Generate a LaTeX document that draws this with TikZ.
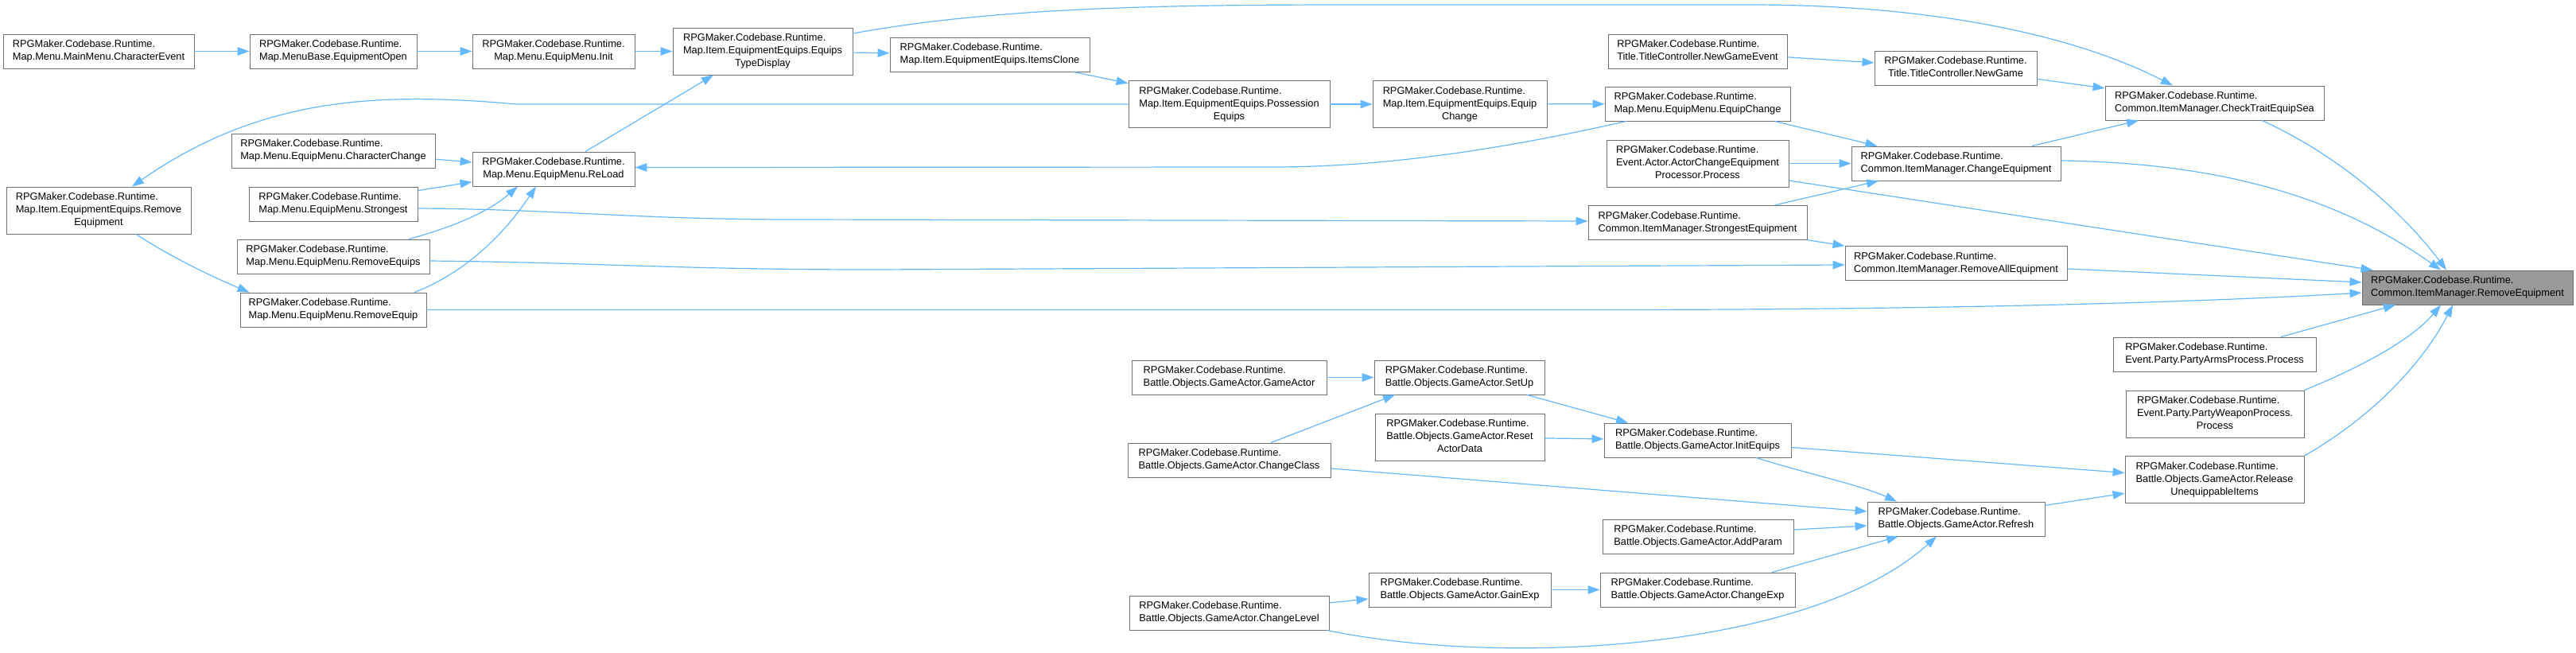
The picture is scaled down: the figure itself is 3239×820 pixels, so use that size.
\documentclass[tikz,border=0pt]{standalone}
\usepackage{fontspec}
\setmainfont{Liberation Sans}
\usetikzlibrary{arrows.meta}
\definecolor{edgeblue}{HTML}{63B8FF}
\definecolor{boxgray}{HTML}{707070}
\definecolor{rootfill}{HTML}{999999}
\newcommand{\lbl}[2]{\begin{tabular}{@{}l@{}}#1\\\multicolumn{1}{@{}c@{}}{#2}\end{tabular}}
\tikzset{
  fn/.style={
    draw=boxgray,
    fill=white,
    line width=0.9pt,
    minimum height=43pt,
    inner xsep=4pt,
    inner ysep=0pt,
    font=\fontsize{12.8}{16}\selectfont
  },
  fnthree/.style={
    fn,
    minimum height=59pt
  },
  root/.style={
    fn,
    fill=rootfill
  },
  call/.style={
    draw=edgeblue,
    line width=1.2pt,
    -{Triangle[length=15pt,width=10.5pt]}
  }
}
\begin{document}
\begin{tikzpicture}[x=1pt, y=-1pt]
  \useasboundingbox (0,0) rectangle (3239,820);

  \node[fn, minimum width=240pt] (charev) at (124,64.5) {\lbl{RPGMaker.Codebase.Runtime.}{Map.Menu.MainMenu.CharacterEvent}};
  \node[fn, minimum width=210pt] (eqopen) at (419,64.5) {\lbl{RPGMaker.Codebase.Runtime.}{Map.MenuBase.EquipmentOpen}};
  \node[fn, minimum width=204pt] (init) at (696,64.5) {\lbl{RPGMaker.Codebase.Runtime.}{Map.Menu.EquipMenu.Init}};
  \node[fnthree, minimum width=226pt] (etd) at (959,64.5) {\lbl{RPGMaker.Codebase.Runtime.\\Map.Item.EquipmentEquips.Equips}{TypeDisplay}};
  \node[fn, minimum width=251pt] (itemsclone) at (1244.5,68.5) {\lbl{RPGMaker.Codebase.Runtime.}{Map.Item.EquipmentEquips.ItemsClone}};
  \node[fnthree, minimum width=253pt] (possess) at (1545.5,131) {\lbl{RPGMaker.Codebase.Runtime.\\Map.Item.EquipmentEquips.Possession}{Equips}};
  \node[fnthree, minimum width=219pt] (itemeqchange) at (1835.5,131) {\lbl{RPGMaker.Codebase.Runtime.\\Map.Item.EquipmentEquips.Equip}{Change}};
  \node[fn, minimum width=225pt] (newgameev) at (2134.5,64.5) {\lbl{RPGMaker.Codebase.Runtime.}{Title.TitleController.NewGameEvent}};
  \node[fn, minimum width=233pt] (menueqchange) at (2134.5,130.5) {\lbl{RPGMaker.Codebase.Runtime.}{Map.Menu.EquipMenu.EquipChange}};
  \node[fnthree, minimum width=229pt] (actorproc) at (2134.5,205.5) {\lbl{RPGMaker.Codebase.Runtime.\\Event.Actor.ActorChangeEquipment}{Processor.Process}};
  \node[fn, minimum width=275pt] (strongesteq) at (2134.5,280) {\lbl{RPGMaker.Codebase.Runtime.}{Common.ItemManager.StrongestEquipment}};
  \node[fn, minimum width=204pt] (newgame) at (2459,85.5) {\lbl{RPGMaker.Codebase.Runtime.}{Title.TitleController.NewGame}};
  \node[fn, minimum width=263pt] (changeeq) at (2459.5,205.5) {\lbl{RPGMaker.Codebase.Runtime.}{Common.ItemManager.ChangeEquipment}};
  \node[fn, minimum width=279pt] (removeall) at (2459.5,331) {\lbl{RPGMaker.Codebase.Runtime.}{Common.ItemManager.RemoveAllEquipment}};
  \node[fn, minimum width=275pt] (checktrait) at (2784.5,129.5) {\lbl{RPGMaker.Codebase.Runtime.}{Common.ItemManager.CheckTraitEquipSea}};
  \node[root, minimum width=265pt] (main) at (3102.5,361.5) {\lbl{RPGMaker.Codebase.Runtime.}{Common.ItemManager.RemoveEquipment}};
  \node[fnthree, minimum width=232pt] (itemremove) at (124,264.5) {\lbl{RPGMaker.Codebase.Runtime.\\Map.Item.EquipmentEquips.Remove}{Equipment}};
  \node[fn, minimum width=256pt] (charchange) at (419,189.5) {\lbl{RPGMaker.Codebase.Runtime.}{Map.Menu.EquipMenu.CharacterChange}};
  \node[fn, minimum width=212pt] (strongest) at (419,256.5) {\lbl{RPGMaker.Codebase.Runtime.}{Map.Menu.EquipMenu.Strongest}};
  \node[fn, minimum width=242pt] (removeequips) at (419,322.5) {\lbl{RPGMaker.Codebase.Runtime.}{Map.Menu.EquipMenu.RemoveEquips}};
  \node[fn, minimum width=234pt] (removeequip) at (419,389.5) {\lbl{RPGMaker.Codebase.Runtime.}{Map.Menu.EquipMenu.RemoveEquip}};
  \node[fn, minimum width=204pt] (reload) at (696,212.5) {\lbl{RPGMaker.Codebase.Runtime.}{Map.Menu.EquipMenu.ReLoad}};

  \node[fn, minimum width=245pt] (gameactor) at (1545.5,474.5) {\lbl{RPGMaker.Codebase.Runtime.}{Battle.Objects.GameActor.GameActor}};
  \node[fn, minimum width=255pt] (changeclass) at (1545.5,578.5) {\lbl{RPGMaker.Codebase.Runtime.}{Battle.Objects.GameActor.ChangeClass}};
  \node[fn, minimum width=251pt] (changelevel) at (1545.5,770.5) {\lbl{RPGMaker.Codebase.Runtime.}{Battle.Objects.GameActor.ChangeLevel}};
  \node[fn, minimum width=214pt] (setup) at (1835,474.5) {\lbl{RPGMaker.Codebase.Runtime.}{Battle.Objects.GameActor.SetUp}};
  \node[fnthree, minimum width=213pt] (resetactor) at (1835.5,549.5) {\lbl{RPGMaker.Codebase.Runtime.\\Battle.Objects.GameActor.Reset}{ActorData}};
  \node[fn, minimum width=229pt] (gainexp) at (1835.5,741.5) {\lbl{RPGMaker.Codebase.Runtime.}{Battle.Objects.GameActor.GainExp}};
  \node[fn, minimum width=235pt] (initequips) at (2134.5,553.5) {\lbl{RPGMaker.Codebase.Runtime.}{Battle.Objects.GameActor.InitEquips}};
  \node[fn, minimum width=240pt] (addparam) at (2135,674.5) {\lbl{RPGMaker.Codebase.Runtime.}{Battle.Objects.GameActor.AddParam}};
  \node[fn, minimum width=245pt] (changeexp) at (2134.5,741.5) {\lbl{RPGMaker.Codebase.Runtime.}{Battle.Objects.GameActor.ChangeExp}};
  \node[fn, minimum width=223pt] (refresh) at (2459.5,652.5) {\lbl{RPGMaker.Codebase.Runtime.}{Battle.Objects.GameActor.Refresh}};
  \node[fn, minimum width=255pt] (partyarms) at (2784.5,445.5) {\lbl{RPGMaker.Codebase.Runtime.}{Event.Party.PartyArmsProcess.Process}};
  \node[fnthree, minimum width=224pt] (partyweapon) at (2785,520.5) {\lbl{RPGMaker.Codebase.Runtime.\\Event.Party.PartyWeaponProcess.}{Process}};
  \node[fnthree, minimum width=225pt] (release) at (2784.5,603) {\lbl{RPGMaker.Codebase.Runtime.\\Battle.Objects.GameActor.Release}{UnequippableItems}};

  \draw[call] (charev) -- (eqopen);
  \draw[call] (eqopen) -- (init);
  \draw[call] (init) -- (etd);
  \draw[call] (etd) -- (itemsclone);
  \draw[call] ([yshift=22.5pt]etd.east) .. controls (1250,10) and (1450,6) .. (1700,6) -- (2200,6) .. controls (2450,6) and (2620,50) .. ([xshift=-52.5pt]checktrait.north);
  \draw[call] (itemsclone) -- (possess);
  \draw[call] (possess) -- (itemeqchange);
  \draw[call] (itemeqchange) -- (menueqchange);
  \draw[call] (possess.west) -- (650,131) .. controls (480,116) and (330,120) .. ([xshift=42pt]itemremove.north);
  \draw[call] ([xshift=47pt]itemremove.south) .. controls (210,320) and (260,345) .. ([xshift=12pt]removeequip.north west);
  \draw[call] (charchange) -- (reload);
  \draw[call] (strongest) -- (reload);
  \draw[call] ([xshift=95pt]removeequips.north) .. controls (560,288) and (610,270) .. ([xshift=-45pt]reload.south);
  \draw[call] ([xshift=102pt]removeequip.north) .. controls (580,345) and (630,300) .. ([xshift=-22pt]reload.south);
  \draw[call] ([xshift=40pt]reload.north) -- ([xshift=-62pt]etd.south);
  \draw[call] ([xshift=-89.5pt]menueqchange.south) .. controls (1900,185) and (1750,210) .. (1600,210) -- ([yshift=2pt]reload.east);
  \draw[call] ([xshift=97pt]menueqchange.south) -- ([xshift=-99pt]changeeq.north);
  \draw[call] (newgameev) -- (newgame);
  \draw[call] (newgame) -- (checktrait);
  \draw[call] (actorproc) -- (changeeq);
  \draw[call] ([yshift=-21.5pt]actorproc.east) -- ([xshift=14pt]main.north west);
  \draw[call] ([xshift=96.5pt]strongesteq.north) -- ([xshift=-97.5pt]changeeq.south);
  \draw[call] ([xshift=95.5pt]changeeq.north) -- ([xshift=-95.5pt]checktrait.south);
  \draw[call] ([yshift=3.5pt]changeeq.east) .. controls (2820,205) and (2960,262) .. ([xshift=-33.5pt]main.north);
  \draw[call] ([xshift=59.5pt]checktrait.south) .. controls (2940,195) and (3020,265) .. ([xshift=-26.5pt]main.north);
  \draw[call] (strongesteq) -- (removeall);
  \draw[call] ([yshift=-5.5pt]strongest.east) .. controls (700,263) and (800,276) .. (1000,276) -- ([yshift=2pt]strongesteq.west);
  \draw[call] ([yshift=-5.5pt]removeequips.east) .. controls (750,330) and (850,339) .. (1100,339) -- ([yshift=-2pt]removeall.west);
  \draw[call] ([yshift=-7pt]removeall.east) -- ([yshift=6.5pt]main.west);
  \draw[call] (removeequip.east) -- (2000,389.5) .. controls (2500,389.5) and (2800,378) .. ([yshift=-6.5pt]main.west);
  \draw[call] ([xshift=83.5pt]partyarms.north) -- ([xshift=-90.5pt]main.south);
  \draw[call] (partyweapon.north east) .. controls (2960,465) and (3030,430) .. ([xshift=-33.5pt]main.south);
  \draw[call] (release.north east) .. controls (2990,520) and (3050,450) .. ([xshift=-18.5pt]main.south);

  \draw[call] (gameactor) -- (setup);
  \draw[call] ([xshift=52.5pt]changeclass.north) -- ([xshift=-81pt]setup.south);
  \draw[call] ([xshift=85pt]setup.south) -- ([xshift=-87.5pt]initequips.north);
  \draw[call] (resetactor) -- (initequips);
  \draw[call] (initequips) -- (release);
  \draw[call] ([xshift=73.5pt]initequips.south) .. controls (2270,595) and (2340,610) .. ([xshift=-74.5pt]refresh.north);
  \draw[call] ([yshift=-10.5pt]changeclass.east) -- ([yshift=9.5pt]refresh.west);
  \draw[call] ([yshift=8.5pt]addparam.east) -- ([yshift=-8.5pt]refresh.west);
  \draw[call] ([xshift=93.5pt]changeexp.north) -- ([xshift=-72.5pt]refresh.south);
  \draw[call] ([xshift=-3pt]changelevel.south east) .. controls (1900,840) and (2280,815) .. ([xshift=-24.5pt]refresh.south);
  \draw[call] (gainexp) -- (changeexp);
  \draw[call] (changelevel) -- (gainexp);
  \draw[call] (refresh) -- (release);
\end{tikzpicture}
\end{document}
